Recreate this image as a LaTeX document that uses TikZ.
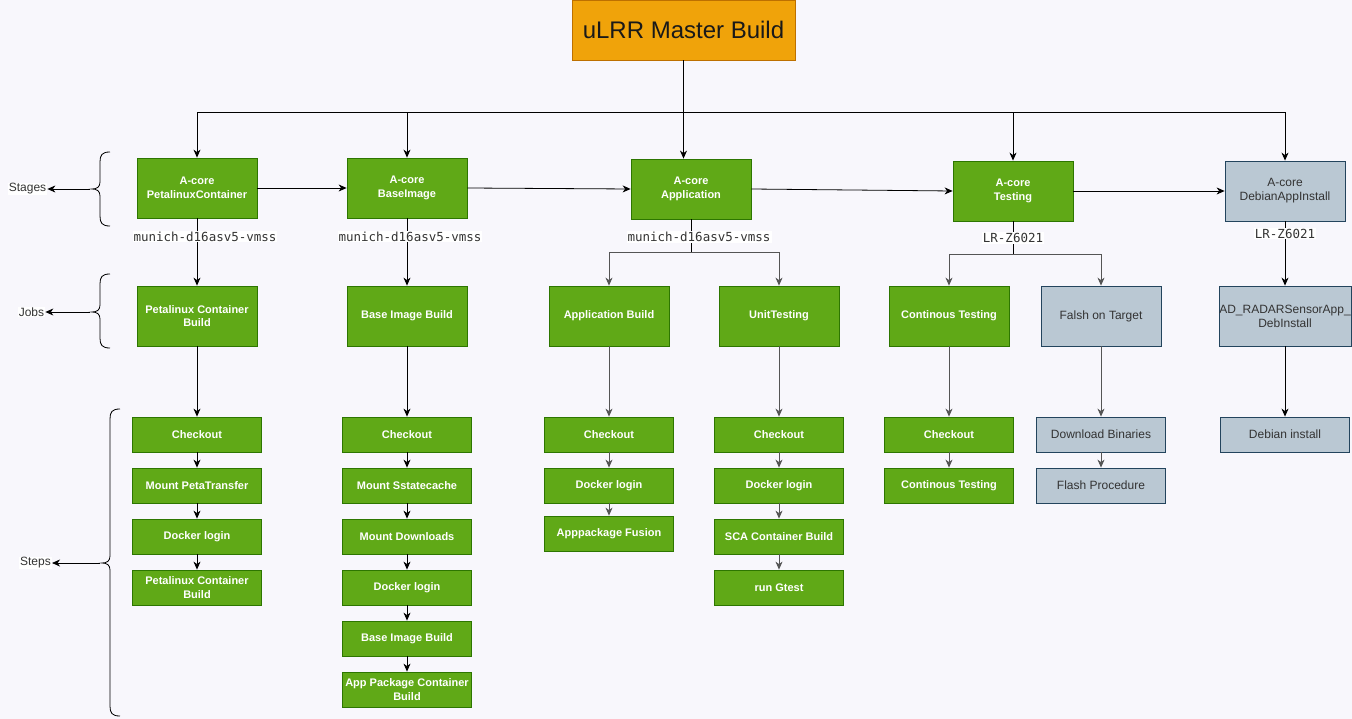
\documentclass[tikz,border=0pt]{standalone}
\usepackage{fontspec}
\setmainfont{Liberation Sans}
\setsansfont{Liberation Sans}
\setmonofont{DejaVu Sans Mono}
\usetikzlibrary{arrows.meta}
\definecolor{bgc}{HTML}{F8F7FC}
\definecolor{greenF}{HTML}{60A917}
\definecolor{greenB}{HTML}{2D7600}
\definecolor{grayF}{HTML}{BAC8D3}
\definecolor{grayB}{HTML}{23445D}
\definecolor{orangeF}{HTML}{F0A30A}
\definecolor{orangeB}{HTML}{BD7000}
\definecolor{txtgray}{HTML}{333333}
\definecolor{lngray}{HTML}{555555}
\tikzset{
  greenbox/.style={draw=greenB, fill=greenF, text=white, font=\bfseries\fontsize{11}{13.5}\selectfont,
    align=center, inner sep=0pt, line width=0.8pt, minimum width=120pt, minimum height=60pt},
  bluebox/.style={draw=grayB, fill=grayF, text=txtgray, font=\fontsize{12}{14}\selectfont,
    align=center, inner sep=0pt, line width=0.8pt, minimum width=120pt, minimum height=60pt},
  greenstep/.style={greenbox, minimum width=129pt, minimum height=35pt},
  bluestep/.style={bluebox, minimum width=129pt, minimum height=35pt},
  arr/.style={draw=black, line width=0.8pt, -{Stealth[length=8pt,width=7pt,inset=2.5pt]}},
  garr/.style={arr, draw=lngray},
  lbl/.style={fill=white, text=txtgray, font=\ttfamily\fontsize{12.5}{14}\selectfont, inner sep=1pt},
  side/.style={fill=white, text=txtgray, font=\fontsize{12}{14}\selectfont, inner sep=1pt},
  bracepath/.style={draw=black, line width=0.8pt},
}
\begin{document}
\begin{tikzpicture}[x=1pt,y=-1pt]
\useasboundingbox (0,0) rectangle (1352,719);
\fill[bgc] (0,0) rectangle (1352,719);

% title
\node[draw=orangeB, fill=orangeF, line width=0.8pt, minimum width=223pt, minimum height=60pt,
  inner sep=0pt, font=\fontsize{24}{28}\selectfont, text=black!90] (title) at (683.5,30) {uLRR Master Build};

% stages
\node[greenbox] (s1) at (197,188) {A-core\\PetalinuxContainer};
\node[greenbox] (s2) at (407,188) {A-core\\BaseImage};
\node[greenbox] (s3) at (691,189) {A-core\\Application};
\node[greenbox] (s4) at (1013,191) {A-core\\Testing};
\node[bluebox] (s5) at (1285,191) {A-core\\DebianAppInstall};

% jobs
\node[greenbox] (j1) at (197,316) {Petalinux Container\\Build};
\node[greenbox] (j2) at (407,316) {Base Image Build};
\node[greenbox] (j3a) at (609,316) {Application Build};
\node[greenbox] (j3b) at (779,316) {UnitTesting};
\node[greenbox] (j4a) at (949,316) {Continous Testing};
\node[bluebox] (j4b) at (1101,316) {Falsh on Target};
\node[bluebox, minimum width=132pt] (j5) at (1285,316) {AD\_RADARSensorApp\_\\DebInstall};

% steps col 1
\node[greenstep] (a1) at (197,434.5) {Checkout};
\node[greenstep] (a2) at (197,485.5) {Mount PetaTransfer};
\node[greenstep] (a3) at (197,536.5) {Docker login};
\node[greenstep] (a4) at (197,587.5) {Petalinux Container\\Build};
% col 2
\node[greenstep] (b1) at (407,434.5) {Checkout};
\node[greenstep] (b2) at (407,485.5) {Mount Sstatecache};
\node[greenstep] (b3) at (407,536.5) {Mount Downloads};
\node[greenstep] (b4) at (407,587.5) {Docker login};
\node[greenstep] (b5) at (407,638.5) {Base Image Build};
\node[greenstep] (b6) at (407,689.5) {App Package Container\\Build};
% col 3
\node[greenstep] (c1) at (609,434.5) {Checkout};
\node[greenstep] (c2) at (609,485.5) {Docker login};
\node[greenstep] (c3) at (609,533.5) {Apppackage Fusion};
% col 4
\node[greenstep] (d1) at (779,434.5) {Checkout};
\node[greenstep] (d2) at (779,485.5) {Docker login};
\node[greenstep] (d3) at (779,536.5) {SCA Container Build};
\node[greenstep] (d4) at (779,587.5) {run Gtest};
% col 5
\node[greenstep] (e1) at (949,434.5) {Checkout};
\node[greenstep] (e2) at (949,485.5) {Continous Testing};
% col 6
\node[bluestep] (f1) at (1101,434.5) {Download Binaries};
\node[bluestep] (f2) at (1101,485.5) {Flash Procedure};
% col 7
\node[bluestep] (g1) at (1285,434.5) {Debian install};

% title bus
\coordinate (bus) at (683.5,112);
\draw[line width=0.8pt] (title.south) -- (bus);
\draw[arr] (bus) -| (s1.north);
\draw[arr] (bus) -| (s2.north);
\draw[arr] (bus) -- (bus |- s3.north);
\draw[arr] (bus) -| (s4.north);
\draw[arr] (bus) -| (s5.north);

% stage chain
\draw[arr] (s1.east) -- (s2.west);
\draw[arr] (s2.east) -- (s3.west);
\draw[arr] (s3.east) -- (s4.west);
\draw[arr] (s4.east) -- (s5.west);

% stages to jobs
\draw[arr] (s1.south) -- (j1.north);
\node[lbl] (l1) at (205,236.5) {munich-d16asv5-vmss};
\draw[arr] (s2.south) -- (j2.north);
\node[lbl] (l2) at (410,236.5) {munich-d16asv5-vmss};
\coordinate (br3) at (691,252);
\draw[line width=0.8pt] (s3.south) -- (br3);
\draw[garr] (br3) -| (j3a.north);
\draw[garr] (br3) -| (j3b.north);
\node[lbl] (l3) at (699,237) {munich-d16asv5-vmss};
\coordinate (br4) at (1013,254);
\draw[line width=0.8pt] (s4.south) -- (br4);
\draw[garr] (br4) -| (j4a.north);
\draw[garr] (br4) -| (j4b.north);
\node[lbl] (l4) at (1013,238) {LR-Z6021};
\draw[arr] (s5.south) -- (j5.north);
\node[lbl] (l5) at (1285,233.5) {LR-Z6021};

% jobs to steps
\draw[arr] (j1.south) -- (a1.north);
\draw[arr] (a1.south) -- (a2.north);
\draw[arr] (a2.south) -- (a3.north);
\draw[arr] (a3.south) -- (a4.north);
\draw[arr] (j2.south) -- (b1.north);
\draw[arr] (b1.south) -- (b2.north);
\draw[arr] (b2.south) -- (b3.north);
\draw[arr] (b3.south) -- (b4.north);
\draw[arr] (b4.south) -- (b5.north);
\draw[arr] (b5.south) -- (b6.north);
\draw[garr] (j3a.south) -- (c1.north);
\draw[garr] (c1.south) -- (c2.north);
\draw[garr] (c2.south) -- (c3.north);
\draw[garr] (j3b.south) -- (d1.north);
\draw[garr] (d1.south) -- (d2.north);
\draw[garr] (d2.south) -- (d3.north);
\draw[garr] (d3.south) -- (d4.north);
\draw[garr] (j4a.south) -- (e1.north);
\draw[garr] (e1.south) -- (e2.north);
\draw[garr] (j4b.south) -- (f1.north);
\draw[garr] (f1.south) -- (f2.north);
\draw[arr] (j5.south) -- (g1.north);

% braces
\draw[bracepath] (110,152) .. controls (102,152) and (100,155) .. (100,162)
  -- (100,182) .. controls (100,187) and (97,189) .. (92,189)
  .. controls (97,189) and (100,191) .. (100,196)
  -- (100,216) .. controls (100,223) and (102,226) .. (110,226);
\draw[bracepath] (110,274) .. controls (102,274) and (100,277) .. (100,284)
  -- (100,305) .. controls (100,310) and (97,312) .. (92,312)
  .. controls (97,312) and (100,314) .. (100,319)
  -- (100,338) .. controls (100,345) and (102,348) .. (110,348);
\draw[bracepath] (120,409) .. controls (112,409) and (110,412) .. (110,419)
  -- (110,556) .. controls (110,561) and (107,563) .. (102,563)
  .. controls (107,563) and (110,565) .. (110,570)
  -- (110,706) .. controls (110,713) and (112,716) .. (120,716);

\node[side] (tst) at (27.5,189) {Stages};
\node[side] (tjb) at (31.5,312) {Jobs};
\node[side] (tsp) at (35.5,563) {Steps};
\coordinate (bt1) at (90,189);
\coordinate (bt2) at (90,312);
\coordinate (bt3) at (100,563);
\draw[arr] (bt1) -- (tst.east);
\draw[arr] (bt2) -- (tjb.east);
\draw[arr] (bt3) -- (tsp.east);
\end{tikzpicture}
\end{document}
